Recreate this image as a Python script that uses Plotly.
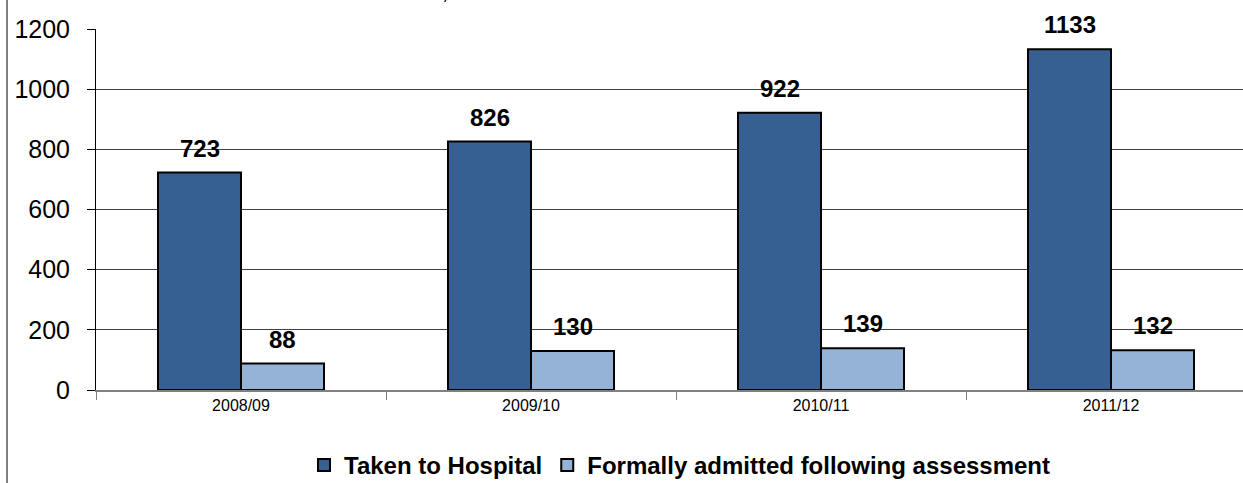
import plotly.graph_objects as go

categories = ["2008/09", "2009/10", "2010/11", "2011/12"]
taken_to_hospital = [723, 826, 922, 1133]
formally_admitted = [88, 130, 139, 132]
series_names = ["Taken to Hospital", "Formally admitted following assessment"]
title_text = "cases, and the number that resulted in a formal admission"

W, H = 1243, 483
L, T, B = 96, 29, 93
plot_h = H - T - B
plot_w = W - L
FONT = "Arial, Liberation Sans, sans-serif"
CAT_PX = 290.0
BAR_PX = 83.0

fig = go.Figure()
fig.add_trace(go.Bar(
    x=categories, y=taken_to_hospital, name=series_names[0],
    marker=dict(color="#376092", line=dict(color="black", width=2)),
))
fig.add_trace(go.Bar(
    x=categories, y=formally_admitted, name=series_names[1],
    marker=dict(color="#95B3D7", line=dict(color="black", width=2)),
))

# value labels above bars
for vals, shift in ((taken_to_hospital, -BAR_PX / 2), (formally_admitted, BAR_PX / 2)):
    for c, v in zip(categories, vals):
        fig.add_annotation(x=c, y=v, xref="x", yref="y", text=f"<b>{v}</b>",
                           showarrow=False, xanchor="center", yanchor="bottom",
                           xshift=shift, yshift=9,
                           font=dict(family=FONT, size=24, color="black"))

fig.update_layout(
    width=W, height=H,
    margin=dict(l=L, r=0, t=T, b=B, pad=0, autoexpand=False),
    barmode="group", bargap=1 - 2 * BAR_PX / CAT_PX, bargroupgap=0,
    plot_bgcolor="white", paper_bgcolor="white",
    font=dict(family=FONT, color="black"),
    showlegend=True,
    legend=dict(orientation="h", x=(680 - L) / plot_w, xanchor="center",
                y=-(443 - (H - B)) / plot_h, yanchor="top",
                font=dict(size=24, family=FONT, color="black", weight="bold"),
                itemwidth=30, traceorder="normal", tracegroupgap=0),
)
fig.update_xaxes(
    type="category", range=[-0.5, -0.5 + plot_w / CAT_PX],
    showline=True, linecolor="#808080", linewidth=2,
    ticks="outside", tickson="boundaries", ticklen=8, tickcolor="#808080",
    tickfont=dict(size=16, family=FONT, color="black"),
    showgrid=False,
)
fig.update_yaxes(
    range=[0, 1200], tickvals=[0, 200, 400, 600, 800, 1000, 1200],
    showline=True, linecolor="black", linewidth=1,
    ticks="outside", ticklen=8, tickcolor="black",
    tickfont=dict(size=25, family=FONT, color="black"),
    ticklabelstandoff=12,
    showgrid=True, gridcolor="#404040", gridwidth=1,
    zeroline=False,
)
# chart outer border (left edge visible)
fig.add_shape(type="line", xref="paper", yref="paper",
              x0=(7 - L) / plot_w, x1=(7 - L) / plot_w,
              y0=-B / plot_h, y1=1 + T / plot_h,
              line=dict(color="#808080", width=2))
# partially cut title
fig.add_annotation(text=title_text, xref="paper", yref="paper",
                   x=(687 - L) / plot_w, y=1 + (T - 6.5) / plot_h,
                   xanchor="center", yanchor="bottom", showarrow=False,
                   font=dict(size=24, family=FONT, color="black"))

fig.write_html("out.html", config={"displayModeBar": False},
               post_script="document.body.style.margin='0px';document.body.style.overflow='hidden';")
